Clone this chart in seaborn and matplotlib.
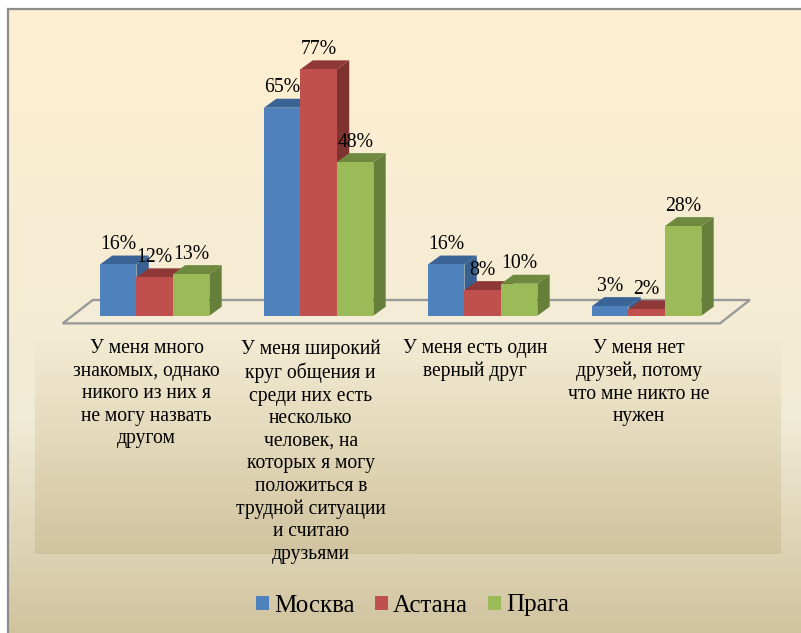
import numpy as np
import pandas as pd
import seaborn as sns
import matplotlib
matplotlib.use("Agg")
import matplotlib.pyplot as plt
from matplotlib.colors import to_rgb
from matplotlib.patches import Polygon, Patch
from matplotlib.transforms import ScaledTranslation

categories = [
    "У меня много\nзнакомых, однако\nникого из них я\nне могу назвать\nдругом",
    "У меня широкий\nкруг общения и\nсреди них есть\nнесколько\nчеловек, на\nкоторых я могу\nположиться в\nтрудной ситуации\nи считаю\nдрузьями",
    "У меня есть один\nверный друг",
    "У меня нет\nдрузей, потому\nчто мне никто не\nнужен",
]
moscow = [16, 65, 16, 3]
astana = [12, 77, 8, 2]
prague = [13, 48, 10, 28]
cities = ["Москва", "Астана", "Прага"]
front_colors = ["#4F81BD", "#C0504D", "#9BBB59"]
side_colors = ["#386090", "#7F3331", "#667F3A"]
top_colors = ["#3A6496", "#8E3937", "#6F8A3E"]

W, H = 801, 633
sns.set_theme(style="white")
plt.rcParams["font.family"] = ["Liberation Serif", "DejaVu Serif"]

df = pd.DataFrame({
    "cat": categories * 3,
    "city": np.repeat(cities, 4),
    "val": moscow + astana + prague,
})

fig = plt.figure(figsize=(W / 100, H / 100), dpi=100, facecolor="white")


def gradient(height, stops, hexes):
    cols = np.array([to_rgb(c) for c in hexes])
    t = np.linspace(0, 1, height)
    return np.stack([np.interp(t, stops, cols[:, i]) for i in range(3)], axis=1)[:, None, :]


def px_axes(x0, y0, x1, y1, z):
    a = fig.add_axes([x0 / W, 1 - y1 / H, (x1 - x0) / W, (y1 - y0) / H], zorder=z)
    a.axis("off")
    return a


outer = px_axes(9, 9.5, W, H, 0)
outer.imshow(gradient(624, [0, 0.66, 1], ["#FFEFD1", "#F0EBD5", "#D1C39F"]), aspect="auto", interpolation="bilinear")
frame = px_axes(0, 0, W, H, 0.5)
frame.set_xlim(0, W)
frame.set_ylim(H, 0)
frame.plot([8.2, 8.2, 810], [640, 8.8, 8.8], color="#8C8C8C", lw=1.6, solid_joinstyle="miter")
# plot-area wall only becomes visible in the lower part of the chart
wall = px_axes(35, 335, 781, 554, 1)
wall.imshow(gradient(219, [0, 1], ["#F3ECD4", "#D1C39F"]), aspect="auto", interpolation="bilinear")

# axes: category i sits at 154.7 + 164 i px, value v at 315.7 - 3.2 v px
ax = px_axes(72.7, 27.7, 728.7, 315.7, 2)
ax.axis("on")
ax.patch.set_alpha(0)
sns.barplot(data=df, x="cat", y="val", hue="city", palette=front_colors, saturation=1,
            width=0.667, gap=0, dodge=True, legend=False, ax=ax, zorder=5)
ax.set_xlim(-0.5, 3.5)
ax.set_ylim(0, 90)
ax.set_xlabel("")
ax.set_ylabel("")
ax.set_yticks([])
ax.tick_params(axis="x", length=0, pad=17, labelsize=14.1, colors="black")
shift = ScaledTranslation(-8 / 100, 0, fig.dpi_scale_trans)
for lab in ax.get_xticklabels():
    lab.set_linespacing(1.25)
    lab.set_ha("center")
    lab.set_transform(lab.get_transform() + shift)
sns.despine(ax=ax, left=True, bottom=True)

# pseudo-3D depth
dx, dy = 0.075, 2.8
ax.add_patch(Polygon([(-0.561, -2.4), (3.447, -2.4), (3.629, 4.9), (-0.378, 4.9)], closed=True,
                     facecolor="#F5ECD7", edgecolor="#9A9A9A", lw=1.7, zorder=1, clip_on=False))

n_cat = len(categories)
bars = [p for p in ax.patches if isinstance(p, matplotlib.patches.Rectangle)]
order = sorted(range(len(bars)), key=lambda k: bars[k].get_x())
for z, k in enumerate(order):
    b = bars[k]
    hue_i = k // n_cat
    x0, x1 = b.get_x(), b.get_x() + b.get_width()
    h = b.get_height()
    base = 2 + z * 0.01
    ax.add_patch(Polygon([(x1, 0), (x1 + dx, dy), (x1 + dx, h + dy), (x1, h)], closed=True,
                         facecolor=side_colors[hue_i], edgecolor="none", zorder=base))
    ax.add_patch(Polygon([(x0, h), (x0 + dx, h + dy), (x1 + dx, h + dy), (x1, h)], closed=True,
                         facecolor=top_colors[hue_i], edgecolor="none", zorder=base))
    b.set_zorder(base + 0.005)
    b.set_edgecolor("none")
    ax.annotate(f"{int(h)}%", xy=((x0 + x1) / 2, h), xytext=(0, 11.2), textcoords="offset points",
                ha="center", va="baseline", fontsize=14.2, color="black", zorder=10, annotation_clip=False)

handles = [Patch(facecolor=c, edgecolor="none") for c in front_colors]
fig.legend(handles, cities, loc="center", bbox_to_anchor=(412.5 / W, 1 - 605.5 / H), ncol=3, frameon=False,
           fontsize=18, handlelength=0.52, handleheight=0.5, handletextpad=0.2, columnspacing=0.8,
           labelcolor="black")

fig.savefig("out.png", dpi=100, facecolor="white")
